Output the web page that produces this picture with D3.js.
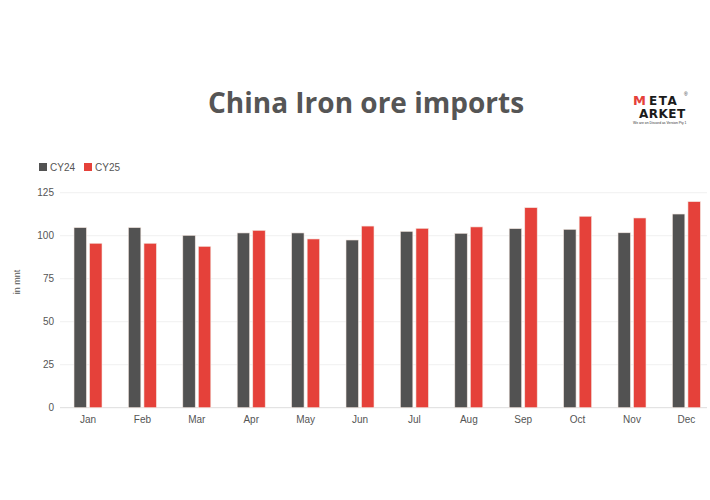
<!DOCTYPE html>
<html><head><meta charset="utf-8">
<script src="https://cdn.jsdelivr.net/npm/d3@7/dist/d3.min.js"></script>
<style>body{margin:0;background:#fff;}svg{display:block;}</style>
</head><body>
<svg id="chart" width="710" height="500"></svg>
<script>
const months = ["Jan","Feb","Mar","Apr","May","Jun","Jul","Aug","Sep","Oct","Nov","Dec"];
const seriesNames = ["CY24","CY25"];
const cy24 = [104.7,104.7,100.2,101.6,101.6,97.5,102.5,101.4,104.1,103.7,101.7,112.6];
const cy25 = [95.6,95.6,93.8,103.1,98.1,105.6,104.3,105.1,116.3,111.3,110.3,119.8];
const yTicks = [0,25,50,75,100,125];
const colors = ["#525252","#e5413a"];

const svg = d3.select("#chart");
const font = "'Liberation Sans', Arial, sans-serif";

const y = d3.scaleLinear().domain([0,125]).range([407.7,192.7]);
const x0 = d3.scaleBand().domain(months).range([60.8,713.6]).padding(0);
const x1 = d3.scaleBand().domain(seriesNames).range([0,28]).paddingInner(0.2);
const offset = (x0.bandwidth()-28)/2;

// title
svg.append("text").attr("x",366).attr("y",113).attr("text-anchor","middle")
  .attr("font-family","'Open Sans', sans-serif").attr("font-weight",700)
  .attr("font-size",28).attr("fill","#555").text("China Iron ore imports");

// logo approx
const logo = svg.append("g").attr("transform","translate(633,94)");
const lf = "'DejaVu Sans', sans-serif";
logo.append("text").attr("x",0).attr("y",11).attr("font-family",lf)
  .attr("font-weight",700).attr("font-size",13).attr("fill","#e5413a").text("M");
logo.append("text").attr("x",16).attr("y",11).attr("font-family",lf)
  .attr("font-weight",700).attr("font-size",12).attr("letter-spacing",1.5).attr("fill","#1a1a1a").text("ETA");
logo.append("text").attr("x",6).attr("y",24).attr("font-family",lf)
  .attr("font-weight",700).attr("font-size",12).attr("letter-spacing",0.5).attr("fill","#1a1a1a").text("ARKET");
logo.append("text").attr("x",51).attr("y",2).attr("font-family",font).attr("font-size",5).attr("fill","#333").text("®");
logo.append("text").attr("x",0).attr("y",30).attr("font-family",font).attr("font-size",3.4).attr("fill","#333").text("We are on Discord as Version Pty 1");

// gridlines
svg.append("g").selectAll("line").data(yTicks).join("line")
  .attr("x1",60).attr("x2",707).attr("y1",d=>y(d)).attr("y2",d=>y(d))
  .attr("stroke",d=>d===0?"#ddd":"#f0f0f0").attr("stroke-width",1);

// y axis
const yAxis = d3.axisLeft(y).tickValues(yTicks).tickSize(0).tickPadding(6);
const yg = svg.append("g").attr("transform","translate(60,0)").call(yAxis);
yg.select(".domain").remove();
yg.selectAll("text").attr("font-family",font).attr("font-size",10).attr("fill","#555");

// x axis
const xAxis = d3.axisBottom(x0).tickSize(0).tickPadding(8);
const xg = svg.append("g").attr("transform",`translate(0,${y(0)})`).call(xAxis);
xg.select(".domain").remove();
xg.selectAll("text").attr("font-family",font).attr("font-size",10).attr("fill","#555");

// y label
svg.append("text").attr("transform","translate(20,282) rotate(-90)").attr("text-anchor","middle")
  .attr("font-family",font).attr("font-size",9).attr("fill","#555").text("in mnt");

// bars
const data = months.map((m,i)=>({m, vals:[{k:"CY24",v:cy24[i]},{k:"CY25",v:cy25[i]}]}));
svg.append("g").selectAll("g").data(data).join("g")
  .attr("transform",d=>`translate(${x0(d.m)+offset},0)`)
  .selectAll("rect").data(d=>d.vals).join("rect")
  .attr("x",d=>x1(d.k)).attr("width",x1.bandwidth())
  .attr("y",d=>y(d.v)).attr("height",d=>y(0)-y(d.v))
  .attr("fill",(d,i)=>colors[i]).attr("stroke","#f3e6e0").attr("stroke-width",0.6);

// legend
const lg = svg.append("g").attr("transform","translate(39,163)");
const items = lg.selectAll("g").data(seriesNames).join("g")
  .attr("transform",(d,i)=>`translate(${i*45},0)`);
items.append("rect").attr("width",8).attr("height",8).attr("fill",(d,i)=>colors[i]);
items.append("text").attr("x",11).attr("y",8).attr("font-family",font).attr("font-size",10)
  .attr("fill","#555").text(d=>d);
</script>
</body></html>
